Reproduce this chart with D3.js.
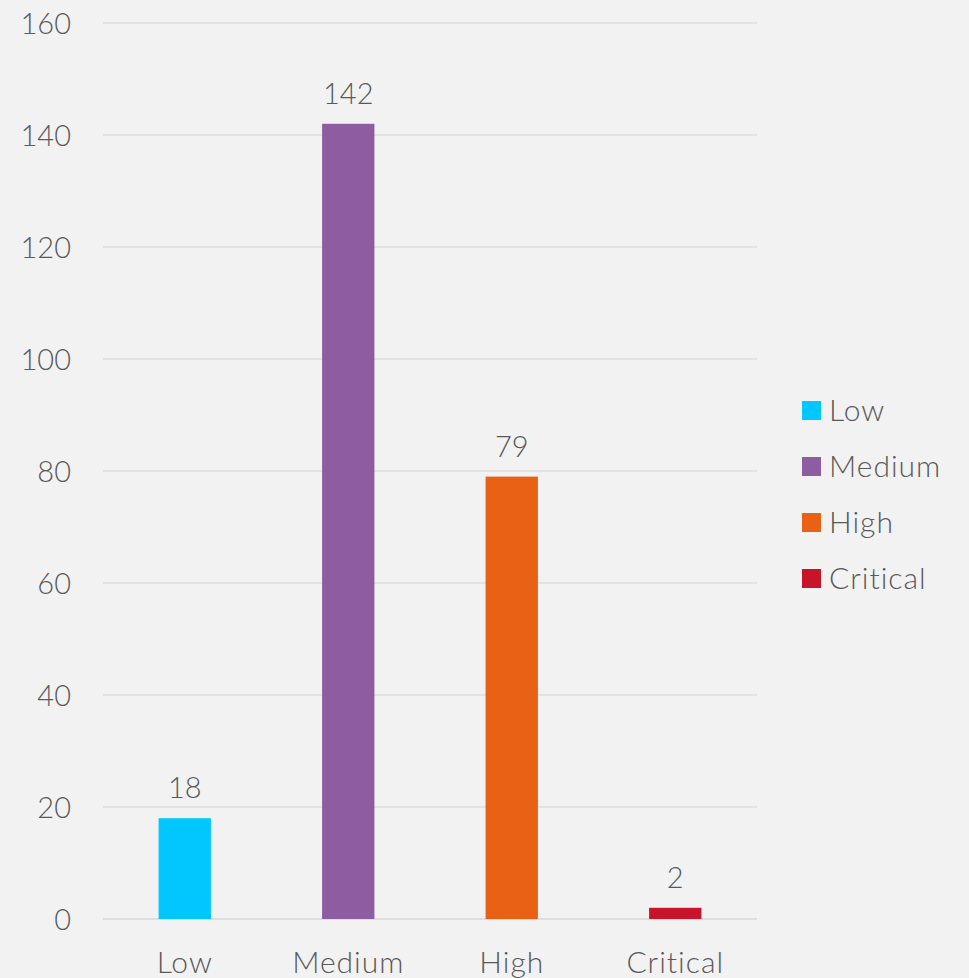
<!DOCTYPE html>
<html>
<head>
<meta charset="utf-8">
<script src="https://cdn.jsdelivr.net/npm/d3@7"></script>
<style>
  html, body { margin: 0; padding: 0; background: #f2f2f2; }
  svg { display: block; }
  text { font-family: Lato, "Noto Sans", sans-serif; font-weight: 300; fill: #595959; }
</style>
</head>
<body>
<svg id="chart" width="969" height="978"></svg>
<script>
// Findings count by severity
const categories = ["Low", "Medium", "High", "Critical"];
const counts = [18, 142, 79, 2];
const colors = ["#00c8ff", "#8e5ca0", "#e86115", "#c8142a"];
const yTicks = [0, 20, 40, 60, 80, 100, 120, 140, 160];

const svg = d3.select("#chart");
const W = 969, H = 978;
const plot = { left: 103, right: 757, top: 23, bottom: 919 };

svg.append("rect").attr("width", W).attr("height", H).attr("fill", "#f2f2f2");

const x = d3.scaleBand()
  .domain(categories)
  .range([plot.left, plot.right])
  .paddingInner(0.68)
  .paddingOuter(0.34);

const y = d3.scaleLinear().domain([0, 160]).range([plot.bottom, plot.top]);

// gridlines
svg.append("g")
  .selectAll("line")
  .data(yTicks)
  .join("line")
  .attr("x1", plot.left)
  .attr("x2", plot.right)
  .attr("y1", d => y(d))
  .attr("y2", d => y(d))
  .attr("stroke", d => d === 0 ? "#dedede" : "#e3e3e3")
  .attr("stroke-width", 2);

// y axis labels
const yAxis = d3.axisLeft(y).tickValues(yTicks).tickSize(0).tickPadding(0);
const gy = svg.append("g").attr("transform", "translate(71,0)").call(yAxis);
gy.select(".domain").remove();
gy.selectAll("text")
  .attr("font-size", 29)
  .attr("font-family", null)
  .attr("fill", "#595959")
  .attr("dy", "0.35em");

// bars
svg.append("g")
  .selectAll("rect")
  .data(categories)
  .join("rect")
  .attr("x", d => x(d))
  .attr("width", x.bandwidth())
  .attr("y", (d, i) => y(counts[i]))
  .attr("height", (d, i) => y(0) - y(counts[i]))
  .attr("fill", (d, i) => colors[i]);

// value labels
svg.append("g")
  .selectAll("text")
  .data(categories)
  .join("text")
  .attr("x", d => x(d) + x.bandwidth() / 2)
  .attr("y", (d, i) => y(counts[i]) - 20)
  .attr("text-anchor", "middle")
  .attr("font-size", 29)
  .text((d, i) => counts[i]);

// x axis labels
const xAxis = d3.axisBottom(x).tickSize(0).tickPadding(0);
const gx = svg.append("g").attr("transform", "translate(0,973)").call(xAxis);
gx.select(".domain").remove();
gx.selectAll("text")
  .attr("font-size", 30)
  .attr("letter-spacing", 1)
  .attr("font-family", null)
  .attr("fill", "#595959")
  .attr("dy", 0);

// legend
const legend = svg.append("g").attr("transform", "translate(802,410)");
const rows = legend.selectAll("g")
  .data(categories)
  .join("g")
  .attr("transform", (d, i) => `translate(0,${i * 56})`);
rows.append("rect")
  .attr("x", 0).attr("y", -9)
  .attr("width", 19).attr("height", 19)
  .attr("fill", (d, i) => colors[i]);
rows.append("text")
  .attr("x", 27)
  .attr("y", 0)
  .attr("dy", "0.35em")
  .attr("font-size", 30)
  .attr("letter-spacing", 1)
  .text(d => d);
</script>
</body>
</html>
